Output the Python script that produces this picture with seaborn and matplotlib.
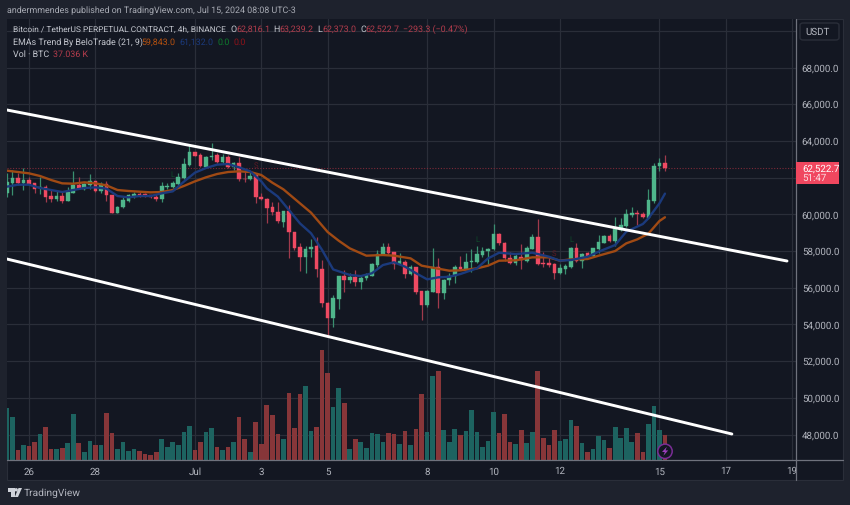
import matplotlib
matplotlib.use("Agg")
import matplotlib.pyplot as plt
from matplotlib.patches import Ellipse, FancyBboxPatch, Polygon, Rectangle
import numpy as np
import pandas as pd
import seaborn as sns

# ============================================================
# DATA
# ============================================================

opens = [61150, 61730, 62000, 61730, 61870, 61690, 61460, 61470, 61000, 60820,
         61000, 60730, 61180, 61580, 61380, 61600, 61800, 61290, 61660, 61060,
         60090, 60380, 60750, 61000, 61110, 61110, 61040, 60950, 60840, 61470,
         61490, 61640, 61970, 62670, 63380, 63240, 62600, 63110, 63240, 62860,
         63110, 62600, 62800, 61930, 61910, 62150, 60970, 60840, 60380, 60150,
         59600, 60190, 59060, 58200, 57700, 58110, 58260, 57020, 55190, 54350,
         55390, 56620, 56400, 56570, 56320, 56510, 56660, 57220, 57800, 58200,
         57930, 57310, 57420, 56730, 57110, 55810, 55080, 55750, 57110, 55700,
         56400, 56640, 57110, 57040, 57400, 57400, 57790, 58000, 58100, 58950,
         58440, 57600, 57330, 57700, 57480, 58130, 58770, 57350, 57330, 57280,
         56790, 57030, 57130, 58190, 57480, 57880, 57730, 58100, 58460, 58800,
         58550, 59150, 59370, 59980, 60060, 60040, 59820, 60730, 62620, 62816.1]
highs = [62240, 62420, 62240, 62510, 62020, 61730, 62020, 61600, 61330, 61290,
         61240, 61510, 62360, 62020, 61690, 62180, 61840, 61780, 61840, 61060,
         60460, 60970, 61090, 61240, 61240, 61180, 61060, 61090, 61780, 61730,
         61840, 62270, 63060, 63780, 63420, 63330, 63180, 63870, 63360, 63290,
         63240, 62870, 63150, 62420, 62330, 62270, 61180, 60880, 60690, 60690,
         60200, 60510, 59060, 58460, 58280, 58640, 58790, 57510, 55240, 55610,
         56640, 56970, 56790, 56970, 56640, 56790, 57370, 58060, 58420, 58460,
         57970, 57880, 57510, 57240, 57150, 55840, 55880, 58150, 57600, 56460,
         56790, 57240, 57750, 57880, 58110, 58280, 58240, 58190, 59460, 58990,
         58480, 57970, 57840, 58370, 58280, 58910, 59750, 57930, 57600, 57370,
         57300, 57300, 58240, 58460, 57900, 57930, 58190, 58880, 58880, 58910,
         59840, 59790, 60280, 60380, 60240, 60130, 61370, 62780, 63060, 63239.2]
lows = [60970, 61060, 61600, 61330, 61600, 61150, 61110, 60690, 60690, 60750,
        60600, 60730, 61150, 61370, 61330, 61370, 61240, 61180, 60750, 60090,
        60060, 60330, 60690, 60880, 60930, 60930, 60880, 60750, 60690, 61370,
        61420, 61600, 61910, 62640, 63180, 62600, 62510, 62960, 62780, 62750,
        62510, 62420, 61840, 61780, 61870, 60600, 60780, 59510, 59970, 59510,
        59330, 57600, 58060, 56910, 56790, 57700, 56570, 54930, 53340, 53840,
        54820, 55790, 56280, 56110, 55910, 56420, 56660, 57150, 57790, 57840,
        57020, 57240, 56550, 56700, 55660, 54240, 54930, 55750, 54920, 55390,
        56150, 56240, 56970, 57000, 56880, 57330, 57660, 57300, 58060, 58310,
        57480, 57300, 57240, 57020, 57420, 58100, 57240, 57110, 57110, 56480,
        56730, 56750, 57100, 57420, 57100, 57700, 57700, 57910, 58420, 58510,
        58280, 59110, 59330, 59880, 59420, 59800, 59790, 60600, 62380, 62373.0]
closes = [61780, 61970, 61730, 61870, 61660, 61380, 61490, 60970, 60820, 61000,
          60730, 61200, 61580, 61400, 61640, 61800, 61280, 61660, 61040, 60090,
          60420, 60780, 61060, 61130, 61060, 61000, 60930, 60840, 61550, 61550,
          61690, 62020, 62750, 63380, 63200, 62640, 63110, 63200, 62860, 63110,
          62600, 62800, 61910, 61910, 62110, 60930, 60820, 60350, 60130, 59620,
          60200, 59040, 58150, 57700, 58130, 58240, 57000, 55150, 54350, 55420,
          56620, 56400, 56600, 56330, 56550, 56710, 57280, 57820, 58200, 57910,
          57310, 57440, 56730, 57150, 55790, 55080, 55810, 57130, 55700, 56420,
          56660, 57110, 57040, 57400, 57460, 57820, 58000, 58130, 58950, 58420,
          57600, 57330, 57710, 57500, 58190, 58770, 57300, 57300, 57260, 56790,
          57060, 57170, 58190, 57480, 57840, 57750, 58150, 58500, 58800, 58550,
          59190, 59400, 60020, 60080, 60020, 59840, 60770, 62640, 62816.1, 62522.7]
volumes_k = [76.6, 64.2, 14.8, 22.7, 20.7, 27.2, 38.5, 48.4, 16.8, 16.8,
             17.8, 24.7, 68.2, 24.7, 11.4, 28.2, 21.7, 21.7, 70.1, 40.5,
             16.8, 26.2, 13.3, 16.8, 13.3, 8.4, 7.4, 12.4, 30.6, 18.8,
             26.2, 21.7, 42.0, 50.4, 14.8, 27.2, 41.0, 46.9, 18.8, 14.8,
             19.8, 27.2, 64.2, 30.6, 11.4, 55.8, 24.2, 81.0, 66.2, 38.5,
             31.6, 99.8, 47.4, 97.8, 110.2, 43.0, 48.9, 163.5, 128.4, 78.5,
             106.2, 84.0, 16.8, 31.1, 26.7, 18.3, 39.5, 38.5, 26.7, 39.5,
             38.5, 23.7, 42.5, 22.2, 45.9, 97.8, 41.0, 124.0, 131.4, 45.0,
             26.7, 45.9, 36.6, 42.5, 74.1, 41.5, 18.8, 28.2, 70.6, 39.5,
             68.2, 26.7, 23.7, 45.0, 25.7, 41.0, 131.4, 32.1, 21.7, 45.0,
             28.2, 31.1, 59.8, 49.9, 25.7, 12.4, 15.8, 35.6, 30.1, 17.3,
             48.9, 32.1, 46.9, 26.7, 39.5, 11.4, 53.4, 80.0, 45.0, 37.036]

ema21_bars = [0, 4, 6, 8, 10, 12, 14, 16, 18, 20, 22, 24, 26, 28, 30, 32, 34, 36, 38, 40,
              42, 44, 46, 48, 50, 53, 55, 58, 60, 62, 65, 68, 70, 73, 75, 78, 80, 82, 85,
              87, 89, 92, 95, 98, 100, 102, 105, 107, 110, 112, 114, 116, 118, 119]
ema21 = [62383, 62238, 62092, 61874, 61692, 61674, 61747, 61692, 61583, 61329, 61275, 61238,
         61202, 61220, 61329, 61547, 61801, 62020, 62201, 62310, 62347, 62310, 62147, 61729,
         61366, 60602, 60094, 59040, 58567, 58150, 57750, 57786, 57750, 57604, 57205, 57041,
         56932, 56950, 57059, 57205, 57477, 57495, 57659, 57659, 57477, 57550, 57568, 57750,
         58004, 58422, 58640, 58949, 59640, 59843]
ema9_bars = [0, 2, 4, 6, 8, 10, 12, 14, 16, 18, 20, 22, 24, 26, 28, 30, 32, 34, 36, 38, 40,
             42, 44, 46, 47, 49, 51, 53, 55, 57, 59, 62, 64, 66, 68, 70, 72, 74, 76, 78, 80,
             82, 85, 87, 89, 92, 95, 98, 100, 102, 105, 107, 110, 112, 115, 116, 118, 119]
ema9 = [61511, 61620, 61620, 61438, 61329, 61220, 61329, 61438, 61474, 61402, 61002, 60929,
        61002, 61002, 61147, 61257, 61783, 62274, 62528, 62710, 62746, 62564, 62347, 61800,
        61420, 60970, 60240, 59510, 58970, 58060, 57000, 56700, 56640, 56790, 57240, 57390,
        57150, 56790, 56460, 56570, 56600, 56750, 57060, 57600, 57910, 57840, 57913, 57695,
        57477, 57513, 57695, 57968, 58331, 59058, 59476, 59785, 60602, 61132]

# channel drawn on the chart: start and end of each line
upper_channel_bars = [0, 141.07]
upper_channel_prices = [65690, 57460]
lower_channel_bars = [0, 131.1]
lower_channel_prices = [57569, 48032]

date_ticks = [4, 16, 34, 46, 58, 76, 88, 100, 118, 130, 142]
date_labels = ["26", "28", "Jul", "3", "5", "8", "10", "12", "15", "17", "19"]
price_ticks = [48000, 50000, 52000, 54000, 56000, 58000, 60000, 62000, 64000, 66000, 68000, 70000]
hidden_price_labels = [62000, 70000]
last_price = 62522.7

# strategy marks left on the chart
mark_labels = ["L", "S", "L", "S", "L"]
mark_bars = [30, 45, 85, 99, 102]
mark_prices = [62183, 62637, 58640, 57877, 58604]
mark_colors = ["#0f4a2a", "#5c1a24", "#0f4a2a", "#5c1a24", "#0f4a2a"]

# ============================================================
# STYLE
# ============================================================

PANEL = "#131722"
PAGE = "#1e222d"
GRID = "#2a2e39"
TEXT = "#b2b5be"
AXIS = "#6f727d"
UP = "#4fb58b"
DOWN = "#ee4a62"
UP_WICK = "#3a8f70"
DOWN_WICK = "#a03a4c"
UP_VOL = "#1d6360"
DOWN_VOL = "#873639"
QUOTE = "#b33c4c"
LABEL = "#c4c7cf"
SMALL = 6.4

sns.set_theme(style="dark")
plt.rcParams["font.family"] = ["Roboto", "DejaVu Sans"]
plt.rcParams["text.hinting"] = "none"

W, H = 850, 505
X_RANGE = (0.02, 142.75)
Y_RANGE = (46615, 70649)
VOL_TOP = 653.5

fig = plt.figure(figsize=(W / 100, H / 100), dpi=100, facecolor=PAGE)
vol_ax = fig.add_axes([7 / W, (H - 460) / H, 789.3 / W, 441 / H], facecolor=PANEL)
ax = vol_ax.twinx()
ax.patch.set_visible(False)


def px(x, y):
    """Figure fraction for a position given in image pixels."""
    return x / W, (H - y) / H


def fig_text(x, y, s, color=TEXT, size=SMALL, **kwargs):
    fig.text(*px(x, y), s, color=color, fontsize=size, va="center", **kwargs)


# ============================================================
# VOLUME
# ============================================================

candles = pd.DataFrame({
    "bar": np.arange(len(opens)),
    "open": opens,
    "high": highs,
    "low": lows,
    "close": closes,
    "volume": volumes_k,
})
candles["side"] = np.where(candles["close"] >= candles["open"], "up", "down")

sns.barplot(
    data=candles, x="bar", y="volume", hue="side", ax=vol_ax,
    palette={"up": UP_VOL, "down": DOWN_VOL},
    native_scale=True, dodge=False, width=0.84, legend=False, linewidth=0, saturation=1,
)
vol_ax.set_xlim(*X_RANGE)
vol_ax.set_ylim(0, VOL_TOP)
vol_ax.set_xlabel("")
vol_ax.set_ylabel("")
vol_ax.set_xticks(date_ticks, date_labels)
vol_ax.set_yticks([])
vol_ax.tick_params(axis="x", length=0, colors=TEXT, labelsize=7.0, pad=5)
vol_ax.grid(False)

# grid goes on the lower axes so it stays behind the volume bars
for price in price_ticks:
    vol_ax.axhline((price - Y_RANGE[0]) / (Y_RANGE[1] - Y_RANGE[0]) * VOL_TOP, color=GRID, lw=0.9, zorder=0.5)
for bar in date_ticks:
    vol_ax.axvline(bar, color=GRID, lw=0.9, zorder=0.5)

# ============================================================
# PRICE PANEL
# ============================================================

ax.axhline(last_price, color="#7c2a38", linewidth=0.8, linestyle=(0, (1, 1.5)), zorder=1)

for side, body_color, wick in [("up", UP, UP_WICK), ("down", DOWN, DOWN_WICK)]:
    part = candles[candles["side"] == side]
    ax.vlines(part["bar"], part["low"], part["high"], color=wick, linewidth=0.9, zorder=2)
    body_low = part[["open", "close"]].min(axis=1)
    body_size = (part["open"] - part["close"]).abs()
    ax.bar(part["bar"], body_size, bottom=body_low, width=0.66, color=body_color,
           edgecolor=body_color, linewidth=0.3, zorder=3)

sns.lineplot(x=ema21_bars, y=ema21, ax=ax, color="#a04a14", linewidth=1.7, zorder=4)
sns.lineplot(x=ema9_bars, y=ema9, ax=ax, color="#1b3a7c", linewidth=1.7, zorder=4)

for bars, prices in [(upper_channel_bars, upper_channel_prices),
                     (lower_channel_bars, lower_channel_prices)]:
    sns.lineplot(x=bars, y=prices, ax=ax, color="white", linewidth=2.1, zorder=5)

for label, bar, price, color in zip(mark_labels, mark_bars, mark_prices, mark_colors):
    ax.text(bar, price, label, color=color, fontsize=5.5, ha="center", va="center", zorder=2)

ax.set_xlim(*X_RANGE)
ax.set_ylim(*Y_RANGE)
ax.set_ylabel("")
ax.set_yticks(price_ticks, ["" if p in hidden_price_labels else f"{p:,.1f}" for p in price_ticks])
ax.yaxis.tick_right()
ax.tick_params(axis="y", length=0, colors=TEXT, labelsize=7.0, pad=4)
ax.grid(False)
for axes in (ax, vol_ax):
    for side in axes.spines:
        axes.spines[side].set_visible(False)

# ============================================================
# FRAME AND SCALE FURNITURE
# ============================================================

fig.patches.append(Rectangle(px(7, 480), 836 / W, 461 / H, transform=fig.transFigure,
                             facecolor=PANEL, edgecolor=GRID, linewidth=0.8, zorder=-5))
fig.add_artist(plt.Line2D([796.3 / W, 796.3 / W], [(H - 480) / H, (H - 19) / H],
                          color=AXIS, linewidth=0.9, zorder=6))
fig.add_artist(plt.Line2D([7 / W, 843 / W], [(H - 460) / H, (H - 460) / H],
                          color=AXIS, linewidth=0.9, zorder=6))

fig.add_artist(FancyBboxPatch(px(800, 40), 39 / W, 17 / H, transform=fig.transFigure,
                              boxstyle="round,pad=0,rounding_size=0.004", facecolor=PANEL,
                              edgecolor=GRID, linewidth=1.0, zorder=6))
fig_text(805, 32, "USDT", size=7.0, zorder=7)

fig.add_artist(Rectangle(px(796, 184.3), 43 / W, 22 / H, transform=fig.transFigure,
                         facecolor="#f0475f", edgecolor="none", zorder=6))
fig_text(802, 168.5, "62,522.7", color="white", size=7.0, zorder=7)
fig_text(802, 178.3, "51:47", color="#fbdde2", size=7.0, zorder=7)

# boost icon at the last bar
fig.add_artist(Ellipse(px(665, 451.3), 14.4 / W, 14.4 / H, transform=fig.transFigure,
                       facecolor=PANEL, edgecolor="#7a2d96", linewidth=1.1, zorder=7))
fig.add_artist(Polygon([px(666.8, 446.8), px(662, 452), px(664.8, 452), px(663.4, 455.8),
                        px(668.2, 450.4), px(665.5, 450.4)],
                       transform=fig.transFigure, facecolor="#9b3fbd", edgecolor="none", zorder=8))

# ============================================================
# HEADER AND LEGEND TEXT
# ============================================================

fig_text(7, 10.5, "andermmendes published on TradingView.com, Jul 15, 2024 08:08 UTC-3", color="#a9acb5")

fig_text(13, 29.5, "Bitcoin / TetherUS PERPETUAL CONTRACT, 4h, BINANCE", color=LABEL, size=6.0, zorder=7)
for x, offset, letter, value in [(230, 6.0, "O", "62,816.1"), (273.5, 6.0, "H", "63,239.2"),
                                 (317.5, 4.5, "L", "62,373.0"), (360, 5.8, "C", "62,522.7")]:
    fig_text(x, 29.5, letter, color=LABEL, zorder=7)
    fig_text(x + offset, 29.5, value, color=QUOTE, zorder=7)
fig_text(403, 29.5, "\u2212293.3 (\u22120.47%)", color=QUOTE, zorder=7)

fig_text(13, 42, "EMAs Trend By BeloTrade (21, 9)", color=LABEL, zorder=7)
fig_text(141, 42, "59,843.0", color="#b8520f", zorder=7)
fig_text(179, 42, "61,132.0", color="#1b3a7c", zorder=7)
fig_text(217, 42, "0.0", color="#0d7a2c", zorder=7)
fig_text(234, 42, "0.0", color="#8f1219", zorder=7)

fig_text(13, 54, "Vol \u00b7 BTC", color=LABEL, zorder=7)
fig_text(53, 54, "37.036 K", color=QUOTE, zorder=7)

# footer logo
logo = "#cfd2d9"
fig.add_artist(Polygon([px(7.5, 488), px(14.5, 488), px(14.5, 497), px(11, 497), px(11, 491.5), px(7.5, 491.5)],
                       transform=fig.transFigure, facecolor=logo, edgecolor="none"))
fig.add_artist(Ellipse(px(16.2, 489.8), 3.4 / W, 3.4 / H, transform=fig.transFigure,
                       facecolor=logo, edgecolor="none"))
fig.add_artist(Polygon([px(18.5, 488), px(22, 488), px(18, 497), px(14.8, 497)],
                       transform=fig.transFigure, facecolor=logo, edgecolor="none"))
fig_text(24, 493, "TradingView", color="#b2b5be", size=7.4)

fig.savefig("out.png", dpi=100, facecolor=PAGE)
